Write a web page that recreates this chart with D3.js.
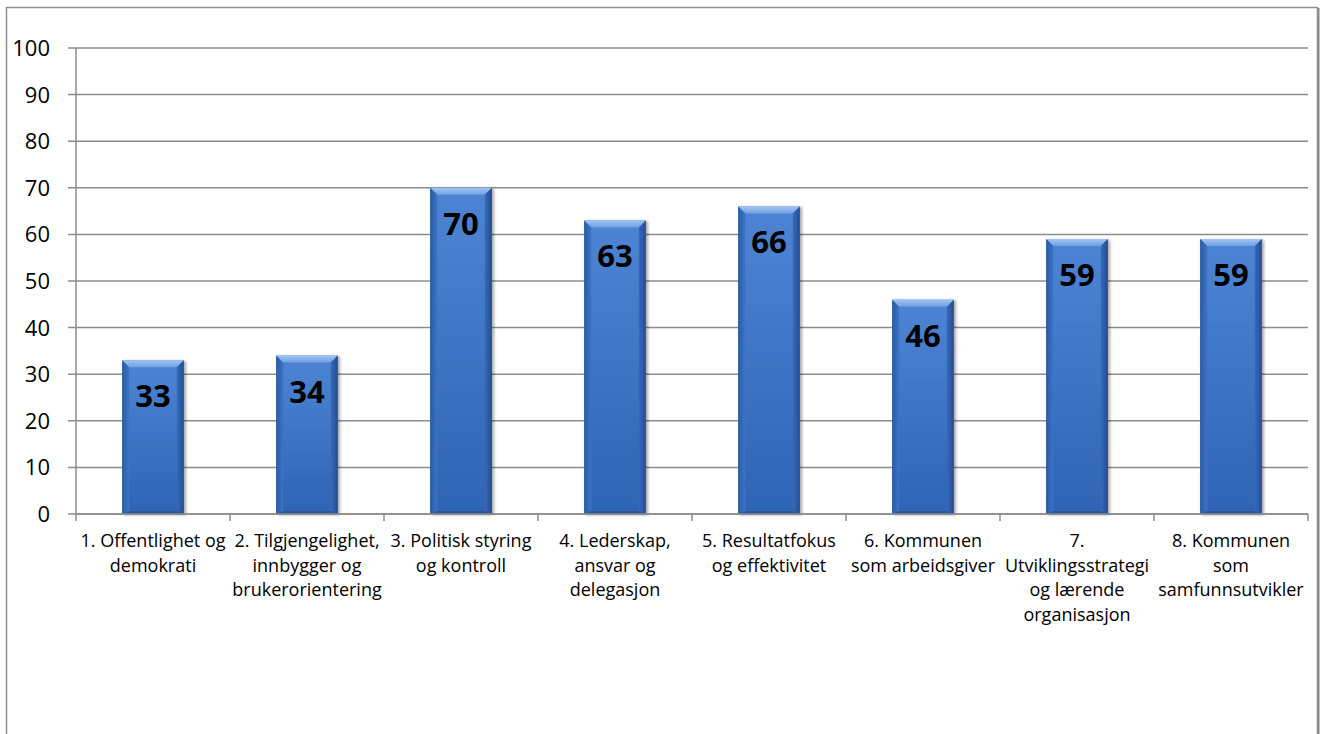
<!DOCTYPE html>
<html>
<head>
<meta charset="utf-8">
<script src="https://cdn.jsdelivr.net/npm/d3@7"></script>
<style>
  html, body { margin: 0; padding: 0; background: #fff; }
  svg { display: block; }
</style>
</head>
<body>
<svg id="chart" width="1322" height="734"></svg>
<script>
// Scores per area (0–100)
const categories = [
  "1. Offentlighet og demokrati",
  "2. Tilgjengelighet, innbygger og brukerorientering",
  "3. Politisk styring og kontroll",
  "4. Lederskap, ansvar og delegasjon",
  "5. Resultatfokus og effektivitet",
  "6. Kommunen som arbeidsgiver",
  "7. Utviklingsstrategi og lærende organisasjon",
  "8. Kommunen som samfunnsutvikler"
];
const values = [33, 34, 70, 63, 66, 46, 59, 59];
// Wrapped category label lines
const labelLines = [
  ["1. Offentlighet og", "demokrati"],
  ["2. Tilgjengelighet,", "innbygger og", "brukerorientering"],
  ["3. Politisk styring", "og kontroll"],
  ["4. Lederskap,", "ansvar og", "delegasjon"],
  ["5. Resultatfokus", "og effektivitet"],
  ["6. Kommunen", "som arbeidsgiver"],
  ["7.", "Utviklingsstrategi", "og lærende", "organisasjon"],
  ["8. Kommunen", "som", "samfunnsutvikler"]
];
const yTicks = [0, 10, 20, 30, 40, 50, 60, 70, 80, 90, 100];

const svg = d3.select("#chart");
const plot = { left: 76, right: 1308, top: 48, bottom: 514 };
const font = "'Open Sans', 'Noto Sans', sans-serif";

const x = d3.scaleBand().domain(categories)
  .range([plot.left, plot.right]).paddingInner(0.6).paddingOuter(0.3);
const y = d3.scaleLinear().domain([0, 100]).range([plot.bottom, plot.top]);

// Outer chart frame
svg.append("rect").attr("x", 6.5).attr("y", 7.5).attr("width", 1311).attr("height", 740)
  .attr("fill", "none").attr("stroke", "#8f8f8f").attr("stroke-width", 1.5);
svg.append("line").attr("x1", 1318.5).attr("x2", 1318.5).attr("y1", 8).attr("y2", 734)
  .attr("stroke", "#8a8a8a").attr("stroke-width", 2);

const defs = svg.append("defs");
const face = defs.append("linearGradient").attr("id", "face").attr("x1", 0).attr("y1", 0).attr("x2", 0).attr("y2", 1);
face.append("stop").attr("offset", "0%").attr("stop-color", "#4d85d4");
face.append("stop").attr("offset", "100%").attr("stop-color", "#2e64b4");
const topG = defs.append("linearGradient").attr("id", "topbev").attr("x1", 0).attr("y1", 0).attr("x2", 0).attr("y2", 1);
topG.append("stop").attr("offset", "0%").attr("stop-color", "#a3c5f2");
topG.append("stop").attr("offset", "100%").attr("stop-color", "#6f9fe2");
const leftG = defs.append("linearGradient").attr("id", "leftbev").attr("x1", 0).attr("y1", 0).attr("x2", 1).attr("y2", 0);
leftG.append("stop").attr("offset", "0%").attr("stop-color", "#2c5aa3");
leftG.append("stop").attr("offset", "100%").attr("stop-color", "#3d74c6");
const rightG = defs.append("linearGradient").attr("id", "rightbev").attr("x1", 0).attr("y1", 0).attr("x2", 1).attr("y2", 0);
rightG.append("stop").attr("offset", "0%").attr("stop-color", "#3769b8");
rightG.append("stop").attr("offset", "100%").attr("stop-color", "#244e94");
const shadow = defs.append("filter").attr("id", "shadow").attr("x", "-20%").attr("y", "-5%").attr("width", "140%").attr("height", "115%");
shadow.append("feDropShadow").attr("dx", 2).attr("dy", 1).attr("stdDeviation", 1.5)
  .attr("flood-color", "#000").attr("flood-opacity", 0.35);

// Horizontal gridlines with left tick marks
svg.append("g").selectAll("line").data(yTicks).join("line")
  .attr("x1", plot.left - 8).attr("x2", plot.right)
  .attr("y1", d => y(d)).attr("y2", d => y(d))
  .attr("stroke", "#8c8c8c").attr("stroke-width", 1.5);

// Value axis line
svg.append("line").attr("x1", plot.left).attr("x2", plot.left)
  .attr("y1", plot.top).attr("y2", plot.bottom)
  .attr("stroke", "#8c8c8c").attr("stroke-width", 1.5);

// Y tick labels
svg.append("g").selectAll("text").data(yTicks).join("text")
  .attr("x", 50).attr("y", d => y(d)).attr("dy", "0.36em")
  .attr("text-anchor", "end").attr("font-family", font).attr("font-size", 22)
  .attr("fill", "#000").text(d => d);

// Category tick marks at band boundaries
const step = x.step();
const bounds = d3.range(categories.length + 1).map(i => plot.left + i * step);
svg.append("g").selectAll("line").data(bounds).join("line")
  .attr("x1", d => d).attr("x2", d => d)
  .attr("y1", plot.bottom).attr("y2", plot.bottom + 7)
  .attr("stroke", "#8c8c8c").attr("stroke-width", 1.5);

// Beveled bars
const bev = 7;
const bars = svg.append("g").selectAll("g").data(categories).join("g")
  .attr("filter", "url(#shadow)");
bars.each(function (c, i) {
  const g = d3.select(this);
  const x0 = x(c), x1 = x(c) + x.bandwidth();
  const y0 = y(values[i]), y1 = y(0);
  g.append("rect").attr("x", x0).attr("y", y0).attr("width", x1 - x0).attr("height", y1 - y0)
    .attr("fill", "url(#face)");
  const poly = (pts, fill) => g.append("polygon")
    .attr("points", pts.map(p => p.join(",")).join(" ")).attr("fill", fill);
  poly([[x0, y0], [x1, y0], [x1 - bev, y0 + bev], [x0 + bev, y0 + bev]], "url(#topbev)");
  poly([[x0, y0], [x0 + bev, y0 + bev], [x0 + bev, y1 - 3], [x0, y1]], "url(#leftbev)");
  poly([[x1, y0], [x1, y1], [x1 - bev, y1 - 3], [x1 - bev, y0 + bev]], "url(#rightbev)");
  poly([[x0, y1], [x0 + bev, y1 - 3], [x1 - bev, y1 - 3], [x1, y1]], "#2a5699");
});

// Category axis line
svg.append("line").attr("x1", plot.left).attr("x2", plot.right)
  .attr("y1", plot.bottom).attr("y2", plot.bottom)
  .attr("stroke", "#8c8c8c").attr("stroke-width", 1.5);

// Value labels inside bars
svg.append("g").selectAll("text").data(categories).join("text")
  .attr("x", c => x(c) + x.bandwidth() / 2)
  .attr("y", (c, i) => y(values[i]) + 47)
  .attr("text-anchor", "middle").attr("font-family", font)
  .attr("font-weight", "bold").attr("font-size", 31).attr("fill", "#000")
  .text((c, i) => values[i]);

// Category labels
const lab = svg.append("g").selectAll("text").data(categories).join("text")
  .attr("text-anchor", "middle").attr("font-family", font).attr("font-size", 18)
  .attr("fill", "#000");
lab.each(function (c, i) {
  const t = d3.select(this);
  labelLines[i].forEach((line, k) => {
    t.append("tspan").attr("x", x(c) + x.bandwidth() / 2)
      .attr("y", 547 + k * 24.5).text(line);
  });
});
</script>
</body>
</html>
